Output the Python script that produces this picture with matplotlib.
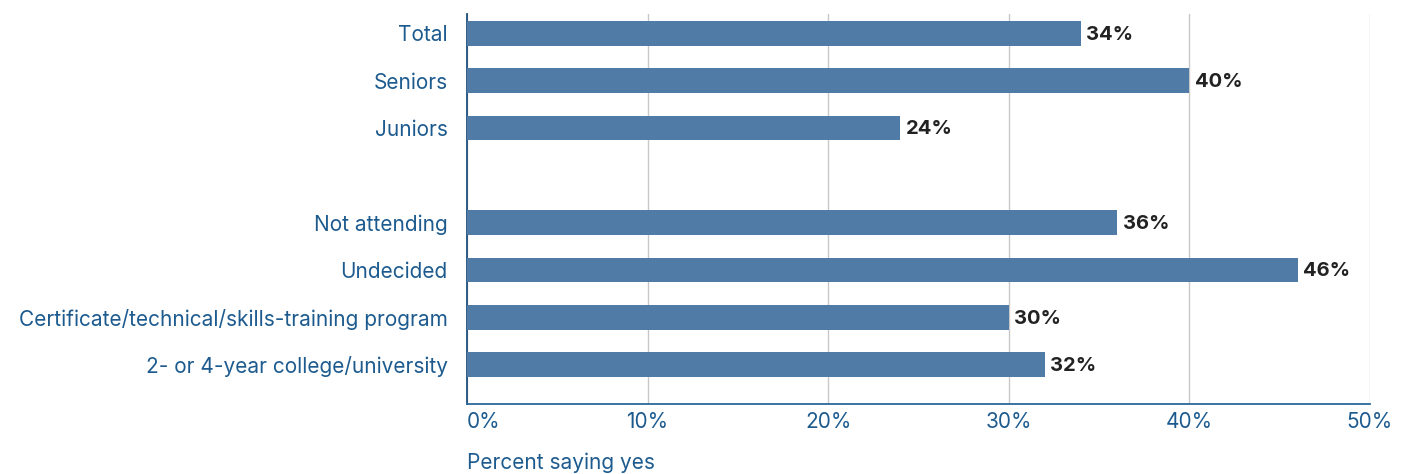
import matplotlib
matplotlib.use("Agg")
import matplotlib.pyplot as plt

categories = [
    "Total",
    "Seniors",
    "Juniors",
    "",
    "Not attending",
    "Undecided",
    "Certificate/technical/skills-training program",
    "2- or 4-year college/university",
]
values = [34, 40, 24, None, 36, 46, 30, 32]
x_ticks = [0, 10, 20, 30, 40, 50]
x_tick_labels = ["0%", "10%", "20%", "30%", "40%", "50%"]

BAR = "#4f7ba6"
TEXT = "#1d5b8f"
VAL = "#222222"

plt.rcParams["font.family"] = ["Inter", "DejaVu Sans"]

fig = plt.figure(figsize=(14.08, 4.74), dpi=100)
ax = fig.add_axes([467 / 1408, 1 - 404 / 474, (1370 - 467) / 1408, (404 - 14) / 474])

for i, (cat, v) in enumerate(zip(categories, values)):
    if v is None:
        continue
    ax.barh(i + 0.02, v, height=0.52, color=BAR, zorder=3)
    ax.text(v + 0.3, i + 0.05, f"{v}%", va="center", ha="left", fontsize=14.5,
            fontweight="bold", color=VAL, zorder=4)

ax.set_xlim(0, 50)
ax.set_ylim(7.85, -0.39)
ax.set_yticks([i + 0.02 for i in range(len(categories))])
ax.set_yticklabels(categories, fontsize=15, color=TEXT)
ax.tick_params(axis="y", length=0, pad=14)
ax.set_xticks(x_ticks)
ax.set_xticklabels(x_tick_labels, fontsize=15, color=TEXT)
ax.get_xticklabels()[0].set_horizontalalignment("left")
ax.tick_params(axis="x", length=0, pad=6)

ax.grid(axis="x", color="#c8c8c8", lw=1, zorder=0)
ax.spines[["top", "right"]].set_visible(False)
ax.spines["left"].set_color("#1d4f7c")
ax.spines["bottom"].set_color("#2b6a9c")
ax.spines["left"].set_linewidth(1.3)
ax.spines["bottom"].set_linewidth(1.3)

fig.text(467 / 1408, 1 - 463 / 474, "Percent saying yes", fontsize=15,
         color=TEXT, ha="left", va="center")

fig.savefig("out.png", dpi=100)
